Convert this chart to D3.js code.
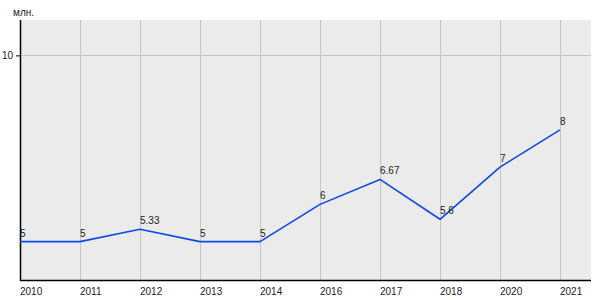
<!DOCTYPE html>
<html>
<head>
<meta charset="utf-8">
<script src="https://cdn.jsdelivr.net/npm/d3@7"></script>
<style>
  body { margin: 0; background: #fff; }
  svg text { font-family: "Liberation Sans", Arial, sans-serif; font-size: 10px; fill: #222; }
</style>
</head>
<body>
<svg id="chart" width="600" height="300"></svg>
<script>
var years = ['2010', '2011', '2012', '2013', '2014', '2016', '2017', '2018', '2020', '2021'];
var values = [5, 5, 5.33, 5, 5, 6, 6.67, 5.6, 7, 8];
var valueLabels = ['5', '5', '5.33', '5', '5', '6', '6.67', '5.6', '7', '8'];
var yTicks = [10];
var unitLabel = 'млн.';

var margin = { top: 20, right: 9, bottom: 20, left: 20 };
var width = 600 - margin.left - margin.right;
var height = 300 - margin.top - margin.bottom;

var svg = d3.select('#chart')
    .append('g')
    .attr('transform', 'translate(' + margin.left + ',' + margin.top + ')');

var x = d3.scalePoint().domain(years).range([0, 540]);
var y = d3.scaleLinear().domain([3.97, 10.95]).range([height, 0]);

// plot background
svg.append('rect')
    .attr('width', width)
    .attr('height', height)
    .attr('fill', '#ebebeb');

// vertical grid
svg.append('g')
    .selectAll('line')
    .data(years.slice(1))
    .enter().append('line')
    .attr('x1', function (d) { return Math.round(x(d)) + 0.5; })
    .attr('x2', function (d) { return Math.round(x(d)) + 0.5; })
    .attr('y1', 0)
    .attr('y2', height)
    .attr('stroke', '#c6c6c6')
    .attr('stroke-width', 1);

// horizontal grid
svg.append('g')
    .selectAll('line')
    .data(yTicks)
    .enter().append('line')
    .attr('x1', 0)
    .attr('x2', width)
    .attr('y1', function (d) { return Math.round(y(d)) + 0.5; })
    .attr('y2', function (d) { return Math.round(y(d)) + 0.5; })
    .attr('stroke', '#c6c6c6');

// y axis
var yAxis = svg.append('g')
    .call(d3.axisLeft(y).tickValues(yTicks).tickFormat(d3.format('d')).tickSize(4).tickPadding(3));
yAxis.select('.domain').remove();
yAxis.selectAll('line').attr('stroke', '#000');
yAxis.selectAll('text').style('font-family', '"Liberation Sans", Arial, sans-serif').style('font-size', '10px').attr('fill', '#222');

// x axis labels
svg.append('g')
    .selectAll('text')
    .data(years)
    .enter().append('text')
    .attr('x', function (d) { return x(d); })
    .attr('y', height + 15)
    .text(function (d) { return d; });

// axis lines
svg.append('line')
    .attr('x1', 0.5).attr('x2', 0.5)
    .attr('y1', 0).attr('y2', height + 1)
    .attr('stroke', '#000').attr('stroke-width', 1.5);
svg.append('line')
    .attr('x1', 0).attr('x2', width)
    .attr('y1', height + 0.5).attr('y2', height + 0.5)
    .attr('stroke', '#000').attr('stroke-width', 1.5);

// unit label
svg.append('text')
    .attr('x', -7)
    .attr('y', -4)
    .text(unitLabel);

// line
var line = d3.line()
    .x(function (d, i) { return x(years[i]); })
    .y(function (d) { return y(d); });
svg.append('path')
    .datum(values)
    .attr('fill', 'none')
    .attr('stroke', '#0a4be6')
    .attr('stroke-width', 1.6)
    .attr('stroke-linejoin', 'round')
    .attr('d', line);

// value labels
svg.append('g')
    .selectAll('text')
    .data(values)
    .enter().append('text')
    .attr('x', function (d, i) { return x(years[i]); })
    .attr('y', function (d) { return y(d) - 5; })
    .text(function (d, i) { return valueLabels[i]; });
</script>
</body>
</html>
